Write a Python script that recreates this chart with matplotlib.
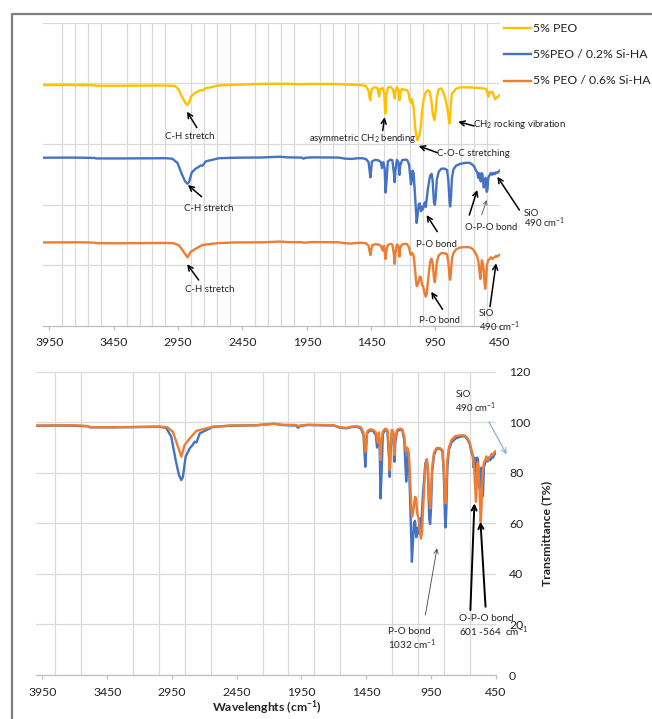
import matplotlib
matplotlib.use("Agg")
import matplotlib.pyplot as plt
from matplotlib.lines import Line2D

plt.rcParams['font.family'] = ['Lato', 'DejaVu Sans']
plt.rcParams['mathtext.fontset'] = 'custom'
plt.rcParams['mathtext.rm'] = 'Lato'
plt.rcParams['mathtext.it'] = 'Lato:italic'
plt.rcParams['mathtext.bf'] = 'Lato:bold'

# ---------------------------------------------------------------- data
# FTIR spectra: (wavenumber cm-1, transmittance %)
PEO = [
    (4000, 98.5), (3800, 98.6), (3600, 98.4), (3585, 98.0), (3400, 98.0), (3050, 98.2),
    (2977, 97.8), (2950, 95.5), (2920, 89.0), (2895, 84.0), (2878, 82.2), (2865, 84.0),
    (2850, 89.0), (2820, 92.0), (2800, 93.0), (2780, 94.2), (2760, 94.0), (2735, 96.0),
    (2690, 96.8), (2640, 98.2), (2500, 98.8), (2300, 99.5), (2100, 99.6), (2000, 99.2),
    (1900, 99.5), (1700, 99.3), (1600, 98.8), (1520, 98.5), (1490, 97.5), (1470, 94.0),
    (1462, 88.0), (1456, 86.1), (1450, 92.0), (1444, 95.5), (1420, 96.8), (1400, 96.0),
    (1388, 89.0), (1380, 95.0), (1360, 96.2), (1348, 92.0), (1340, 75.0), (1332, 90.0),
    (1320, 96.5), (1300, 97.0), (1280, 95.0), (1267, 87.5), (1260, 94.0), (1250, 96.8),
    (1238, 95.0), (1230, 86.0), (1222, 93.0), (1210, 95.5), (1190, 94.5), (1170, 94.4),
    (1160, 92.0), (1148, 85.0), (1140, 84.0), (1132, 87.0), (1120, 80.0), (1108, 64.0),
    (1098, 56.0), (1090, 53.0), (1082, 55.0), (1075, 57.0), (1066, 62.0), (1055, 76.0),
    (1042, 87.0), (1028, 92.0), (1010, 94.4), (995, 93.0), (982, 86.0), (970, 74.0),
    (958, 69.6), (950, 76.0), (940, 88.0), (925, 95.0), (905, 95.8), (890, 93.0),
    (872, 87.0), (856, 78.0), (846, 70.0), (840, 66.9), (832, 80.0), (822, 91.7),
    (810, 93.0), (790, 95.5), (760, 96.6), (720, 96.7), (682, 96.6), (620, 96.2),
    (578, 95.8), (552, 95.0), (545, 91.0), (539, 88.9), (530, 93.0), (520, 92.0),
    (510, 93.0), (500, 91.0), (487, 86.7), (475, 88.0), (465, 89.0), (450, 90.2),
]

PEO_SIHA_02 = [
    (4000, 98.6), (3800, 98.7), (3700, 98.6), (3600, 98.4), (3585, 98.0), (3400, 98.0),
    (3200, 98.1), (3050, 98.2), (2995, 97.8), (2955, 94.3), (2921, 85.0), (2895, 79.0),
    (2877, 77.1), (2865, 78.4), (2844, 86.4), (2812, 89.7), (2790, 91.0), (2774, 92.3),
    (2760, 92.0), (2735, 95.6), (2684, 96.9), (2632, 98.2), (2500, 98.6), (2300, 98.8),
    (2160, 99.4), (2100, 98.9), (1990, 98.7), (1975, 97.8), (1960, 98.6), (1900, 98.9),
    (1700, 98.7), (1650, 97.8), (1600, 97.6), (1560, 98.1), (1520, 98.2), (1490, 97.5),
    (1470, 95.0), (1462, 88.0), (1456, 82.4), (1450, 88.0), (1444, 95.5), (1420, 96.8),
    (1395, 96.5), (1375, 95.0), (1365, 90.0), (1355, 95.0), (1345, 90.0), (1338, 69.9),
    (1330, 80.0), (1320, 95.5), (1300, 97.0), (1285, 96.5), (1272, 85.0), (1267, 78.4),
    (1261, 88.0), (1250, 96.8), (1238, 95.0), (1230, 84.4), (1224, 92.0), (1210, 96.5),
    (1190, 97.0), (1170, 96.8), (1155, 93.0), (1145, 82.0), (1140, 76.5), (1135, 80.0),
    (1128, 88.0), (1120, 86.0), (1110, 70.0), (1100, 52.0), (1096, 44.8), (1088, 52.0),
    (1080, 60.0), (1072, 61.0), (1062, 54.5), (1055, 58.0), (1048, 56.0), (1040, 60.0),
    (1030, 62.0), (1025, 58.0), (1010, 72.0), (992, 83.7), (980, 85.3), (972, 80.0),
    (962, 62.0), (955, 59.7), (948, 66.0), (940, 80.0), (925, 87.0), (905, 89.5),
    (880, 89.6), (860, 88.5), (850, 80.0), (840, 62.0), (836, 58.4), (830, 65.0),
    (822, 82.0), (810, 89.0), (790, 92.0), (760, 93.5), (720, 94.3), (690, 94.5),
    (670, 93.5), (650, 91.5), (635, 88.0), (625, 86.5), (618, 82.0), (612, 86.0),
    (605, 84.0), (598, 79.0), (592, 86.0), (585, 85.0), (575, 74.0), (568, 76.0),
    (560, 82.0), (552, 70.5), (546, 72.0), (540, 82.0), (530, 84.0), (520, 86.0),
    (510, 84.5), (500, 86.0), (490, 85.0), (480, 86.5), (470, 86.0), (460, 87.0),
    (450, 88.0),
]

PEO_SIHA_06 = [
    (4000, 98.7), (3700, 98.8), (3600, 98.5), (3585, 98.1), (3400, 98.0), (3050, 98.3),
    (2985, 98.0), (2942, 96.2), (2903, 90.3), (2877, 86.4), (2852, 91.0), (2812, 93.6),
    (2761, 96.6), (2684, 97.6), (2632, 98.2), (2500, 98.7), (2300, 98.8), (2160, 99.4),
    (2100, 99.0), (1990, 98.9), (1975, 98.5), (1900, 99.0), (1700, 98.8), (1650, 98.0),
    (1600, 97.8), (1560, 98.3), (1520, 98.4), (1490, 98.0), (1470, 96.0), (1456, 88.3),
    (1448, 93.0), (1440, 96.5), (1420, 97.2), (1395, 97.0), (1375, 96.0), (1360, 92.0),
    (1350, 96.0), (1338, 85.0), (1330, 93.0), (1320, 96.5), (1300, 97.5), (1285, 97.0),
    (1272, 88.0), (1267, 81.0), (1261, 90.0), (1250, 97.0), (1238, 96.0), (1230, 87.0),
    (1224, 94.0), (1210, 97.0), (1190, 97.5), (1170, 97.2), (1155, 94.5), (1145, 89.0),
    (1140, 88.5), (1132, 90.0), (1120, 88.0), (1110, 78.0), (1100, 66.0), (1095, 62.6),
    (1088, 64.0), (1080, 67.0), (1072, 70.5), (1064, 70.0), (1055, 64.0), (1045, 62.0),
    (1035, 57.0), (1026, 54.0), (1018, 56.0), (1010, 65.0), (1000, 75.0), (990, 83.0),
    (982, 85.3), (972, 82.0), (962, 70.0), (955, 65.9), (948, 72.0), (940, 82.0),
    (925, 88.0), (905, 89.8), (880, 89.8), (860, 89.0), (850, 82.0), (840, 70.0),
    (836, 67.9), (830, 74.0), (822, 85.0), (810, 90.0), (790, 93.0), (760, 94.5),
    (720, 94.8), (690, 94.8), (670, 94.0), (650, 92.0), (635, 89.0), (625, 87.0),
    (615, 82.0), (605, 72.0), (601, 68.5), (596, 74.0), (590, 84.0), (585, 83.0),
    (575, 76.0), (568, 65.0), (564, 60.5), (558, 66.0), (550, 80.0), (540, 84.0),
    (530, 85.0), (520, 86.5), (510, 85.0), (500, 86.0), (490, 86.5), (480, 87.5),
    (470, 87.0), (460, 88.0), (450, 88.5),
]

SERIES_LABELS = ["5% PEO", "5%PEO / 0.2% Si-HA", "5% PEO / 0.6% Si-HA"]
SERIES_COLORS = ["#FFC000", "#4472C4", "#ED7D31"]
STACK_OFFSETS = [70, 10, -60]          # vertical shift of each trace in the stacked view

X_TICKS = [3950, 3450, 2950, 2450, 1950, 1450, 950, 450]
T_TICKS = [0, 20, 40, 60, 80, 100, 120]

# ---------------------------------------------------------------- figure
W, H = 652, 719
fig = plt.figure(figsize=(W / 100, H / 100), dpi=100)


def fx(px):
    return px / W


def fy(py):
    return 1 - py / H


GRID = "#d9d9d9"
AXIS = "#bfbfbf"
TICK_FS = 8.8
NOTE_FS = 6.9


def split(points):
    return [p[0] for p in points], [p[1] for p in points]


def style_axis(ax, grid_step):
    ax.set_xlim(4000, 450)
    ax.set_xticks(X_TICKS)
    ax.set_xticks(list(range(450, 4000, grid_step)), minor=True)
    ax.grid(which="minor", axis="x", color=GRID, lw=0.9)
    ax.grid(which="major", axis="y", color=GRID, lw=0.9)
    ax.grid(which="major", axis="x", visible=False)
    ax.tick_params(axis="x", which="minor", length=0)
    ax.tick_params(axis="x", which="major", length=2.8, width=0.9, color=AXIS,
                   labelsize=TICK_FS, pad=5.5, labelcolor="#222222")
    for side in ("top", "left", "right"):
        ax.spines[side].set_visible(False)
    ax.spines["bottom"].set_color(AXIS)
    ax.spines["bottom"].set_linewidth(0.9)
    ax.set_axisbelow(True)


def arrow(ax, tip, tail, lw=1.1, color="black", ms=9):
    ax.annotate("", xy=tip, xytext=tail, annotation_clip=False,
                arrowprops=dict(arrowstyle="->", color=color, lw=lw,
                                shrinkA=0, shrinkB=0, mutation_scale=ms))


def note(ax, x, y, s, ha="center", fs=NOTE_FS):
    ax.text(x, y, s, ha=ha, va="center", fontsize=fs, color="#222222", clip_on=False)


# ---------------- stacked spectra (upper chart)
ax1 = fig.add_axes([fx(43), fy(325.7), fx(499.8 - 43), (325.7 - 22.7) / H])
style_axis(ax1, 100)
ax1.set_ylim(-30, 220)
ax1.set_yticks([20, 70, 120, 170, 220])
ax1.tick_params(axis="y", length=0, labelleft=False)

for pts, color, off in zip([PEO, PEO_SIHA_02, PEO_SIHA_06], SERIES_COLORS, STACK_OFFSETS):
    wn, t = split(pts)
    ax1.plot(wn, [v + off for v in t], color=color, lw=1.7, solid_joinstyle="round")

# 5% PEO bands
arrow(ax1, (2881, 146.6), (2804, 133.4))
note(ax1, 2858, 126.5, "C-H stretch")
arrow(ax1, (1345, 142.0), (1360, 131.0))
note(ax1, 1516, 124.6, "asymmetric CH$_2$ bending")
arrow(ax1, (1080, 118.3), (934, 112.7))
note(ax1, 936, 111.7, "C-O-C stretching", ha="left")
arrow(ax1, (773, 138.3), (650, 134.8))
note(ax1, 656, 136.2, "CH$_2$ rocking vibration", ha="left")

# 0.2% Si-HA bands
arrow(ax1, (2874, 86.1), (2767, 76.4))
note(ax1, 2708, 66.5, "C-H stretch")
arrow(ax1, (1019, 61.3), (936, 47.6))
note(ax1, 946, 37.4, "P-O bond")
arrow(ax1, (625, 82.0), (687, 61.3))
arrow(ax1, (552, 73.7), (591, 61.3), lw=0.6, color="#555555", ms=7)
note(ax1, 516, 51.0, "O-P-O bond")
arrow(ax1, (469, 92.9), (298, 65.5))
note(ax1, 261, 62.7, "SiO", ha="left")
note(ax1, 261, 55.0, "490 cm$^{-1}$", ha="left")

# 0.6% Si-HA bands
arrow(ax1, (2880, 20.7), (2790, 7.7))
note(ax1, 2702, 0.0, "C-H stretch")
arrow(ax1, (983, -2.0), (895, -16.5))
note(ax1, 918, -25.3, "P-O bond")
arrow(ax1, (479, 21.5), (526, -14.3))
note(ax1, 611, -20.3, "SiO", ha="left")
note(ax1, 611, -30.8, "490 cm$^{-1}$", ha="left")

# legend
for i, (lab, col) in enumerate(zip(SERIES_LABELS, SERIES_COLORS)):
    yy = [28.3, 54.3, 81.0][i]
    fig.add_artist(Line2D([fx(504), fx(531)], [fy(yy), fy(yy)], color=col, lw=1.7))
    fig.text(fx(533), fy(yy), lab, ha="left", va="center", fontsize=8.8, color="#222222")

# ---------------- overlaid spectra (lower chart)
ax2 = fig.add_axes([fx(36), fy(675), fx(495.5 - 36), (675 - 371.7) / H])
style_axis(ax2, 200)
ax2.set_ylim(0, 120)
ax2.set_yticks(T_TICKS)
ax2.yaxis.tick_right()
ax2.tick_params(axis="y", length=0, pad=9.7, labelsize=TICK_FS, labelcolor="#222222")

for pts, color in zip([PEO_SIHA_02, PEO_SIHA_06], SERIES_COLORS[1:]):
    wn, t = split(pts)
    ax2.plot(wn, t, color=color, lw=1.7, solid_joinstyle="round")

arrow(ax2, (365, 87.4), (502, 100.2), lw=0.7, color="#6f9fd8", ms=9)
note(ax2, 760, 110.8, "SiO", ha="left")
note(ax2, 760, 105.9, "490 cm$^{-1}$", ha="left")

arrow(ax2, (902, 50.1), (992, 23.7), lw=0.6, color="#444444", ms=8)
note(ax2, 1283, 17.1, "P-O bond", ha="left", fs=7.2)
note(ax2, 1283, 11.9, "1032 cm$^{-1}$", ha="left", fs=7.2)

arrow(ax2, (613, 67.9), (644, 25.7), lw=1.4)
arrow(ax2, (566, 60.6), (527, 27.0), lw=1.4)
note(ax2, 734, 22.4, "O-P-O bond", ha="left", fs=7.2)
note(ax2, 734, 17.1, "601 -564  cm$^{-1}$", ha="left", fs=7.2)

fig.text(fx(267), fy(707.5), r"Wavelenghts (cm$^{\mathbf{-1}}$)", ha="center", va="center",
         fontsize=8.8, fontweight="bold", color="#222222")
fig.text(fx(547), fy(533), "Transmittance (T%)", ha="center", va="center", rotation=90,
         fontsize=8.8, fontweight="bold", color="#222222")

# outer frame
fig.add_artist(Line2D([fx(12), fx(12), 1.0], [0.0, fy(13.5), fy(13.5)],
                      color="#7f7f7f", lw=1.6))

fig.savefig("out.png", dpi=100)
